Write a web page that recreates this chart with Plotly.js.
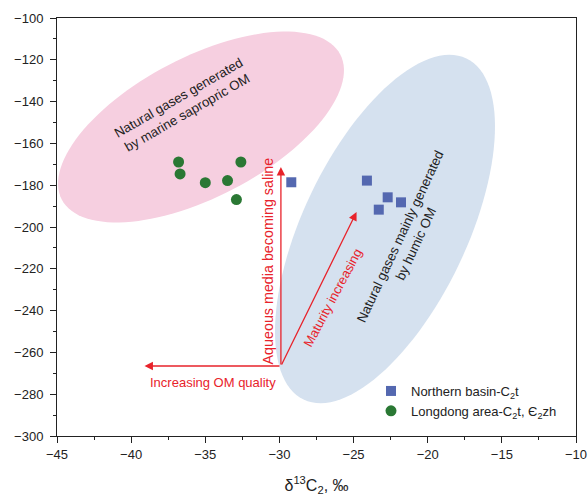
<!DOCTYPE html>
<html>
<head>
<meta charset="utf-8">
<script src="https://cdn.plot.ly/plotly-3.0.1.min.js"></script>
<style>html,body{margin:0;padding:0;background:#fff;}#chart{width:588px;height:496px;}</style>
</head>
<body>
<div id="chart"></div>
<script>
// ---- data ----
const northernX = [-29.2, -24.1, -22.7, -21.8, -23.3];
const northernY = [-178.6, -177.8, -185.8, -188.2, -191.7];
const longdongX = [-36.8, -36.7, -35.0, -33.5, -32.6, -32.9];
const longdongY = [-168.9, -174.6, -178.8, -177.8, -168.9, -186.9];
const xTickVals = [-45, -40, -35, -30, -25, -20, -15, -10];
const yTickVals = [-300, -280, -260, -240, -220, -200, -180, -160, -140, -120, -100];

// ---- layout geometry ----
const W = 588, H = 496;
const M = {l: 57, r: 12, t: 18, b: 60};
const XR = [-45, -10], YR = [-300, -100];
const PW = W - M.l - M.r, PH = H - M.t - M.b;
function px2x(p){ return XR[0] + (p - M.l) * (XR[1]-XR[0]) / PW; }
function py2y(p){ return YR[1] - (p - M.t) * (YR[1]-YR[0]) / PH; }

function ellipsePath(cx, cy, a, b, deg){
  const phi = deg * Math.PI / 180;
  let d = '';
  for (let i = 0; i <= 120; i++){
    const t = 2 * Math.PI * i / 120;
    const px = cx + a*Math.cos(t)*Math.cos(phi) - b*Math.sin(t)*Math.sin(phi);
    const py = cy - (a*Math.cos(t)*Math.sin(phi) + b*Math.sin(t)*Math.cos(phi));
    d += (i === 0 ? 'M' : 'L') + px2x(px).toFixed(4) + ',' + py2y(py).toFixed(4);
  }
  return d + 'Z';
}

const red = '#e8232b';
const origin = {x: -29.9, y: -266.5};

const traces = [
  {
    x: northernX, y: northernY, type: 'scatter', mode: 'markers',
    name: 'Northern basin-C<sub>2</sub>t',
    marker: {symbol: 'square', size: 10, color: '#5468b0'}
  },
  {
    x: longdongX, y: longdongY, type: 'scatter', mode: 'markers',
    name: 'Longdong area-C<sub>2</sub>t, Є<sub>2</sub>zh',
    marker: {symbol: 'circle', size: 11, color: '#2a7834'}
  }
];

function arrow(tx, ty){
  return {x: tx, y: ty, ax: origin.x, ay: origin.y, xref: 'x', yref: 'y', axref: 'x', ayref: 'y',
    text: '', showarrow: true, arrowhead: 2, arrowsize: 1.3, arrowwidth: 1.3, arrowcolor: red};
}

const annotations = [
  arrow(-39.1, -266.5),
  arrow(-29.9, -171.3),
  arrow(-24.8, -192.8),
  {x: -34.5, y: -274.6, xref: 'x', yref: 'y', text: 'Increasing OM quality', showarrow: false,
    font: {size: 13, color: red}},
  {x: -30.8, y: -216.2, xref: 'x', yref: 'y', text: 'Aqueous media becoming saline', showarrow: false,
    textangle: -90, font: {size: 14.3, color: red}},
  {x: -26.4, y: -233.7, xref: 'x', yref: 'y', text: 'Maturity increasing', showarrow: false,
    textangle: -62, font: {size: 13, color: red}},
  {x: px2x(183), y: py2y(105), xref: 'x', yref: 'y', text: 'Natural gases generated<br>by marine sapropric OM',
    showarrow: false, textangle: -30, font: {size: 13.3, color: '#222'}},
  {x: px2x(408), y: py2y(240), xref: 'x', yref: 'y', text: 'Natural gases mainly generated<br>by humic OM',
    showarrow: false, textangle: -65, font: {size: 13.3, color: '#222'}}
];

const shapes = [
  {type: 'path', xref: 'x', yref: 'y', layer: 'below', path: ellipsePath(201, 127, 157, 70, 27.5),
    fillcolor: '#f6cfe0', line: {width: 0}},
  {type: 'path', xref: 'x', yref: 'y', layer: 'below', path: ellipsePath(385, 229, 189, 82, 64.5),
    fillcolor: '#d5e1ef', line: {width: 0}}
];

const axisCommon = {
  showgrid: false, zeroline: false, showline: true, linecolor: '#222', linewidth: 1, mirror: true,
  ticks: 'outside', ticklen: 6, tickcolor: '#222', tickwidth: 1,
  tickfont: {size: 13, color: '#222'}
};

const layout = {
  width: W, height: H,
  margin: M,
  paper_bgcolor: '#fff', plot_bgcolor: '#fff',
  font: {family: 'Liberation Sans, Arial, sans-serif', color: '#222'},
  showlegend: true,
  legend: {x: (371 - M.l) / PW, y: 1 - (376 - M.t) / PH, xanchor: 'left', yanchor: 'top',
    bgcolor: 'rgba(0,0,0,0)', font: {size: 13, color: '#222'}, tracegroupgap: 0},
  xaxis: Object.assign({}, axisCommon, {
    range: XR, tickvals: xTickVals, ticktext: xTickVals.map(v => v < 0 ? '\u2212' + Math.abs(v) : String(v)),
    minor: {dtick: 2.5, ticks: 'outside', ticklen: 3, tickcolor: '#222'},
    title: {text: 'δ<sup>13</sup>C<sub>2</sub>, ‰', font: {size: 16, color: '#222'}, standoff: 20}
  }),
  yaxis: Object.assign({}, axisCommon, {
    range: YR, tickvals: yTickVals, ticktext: yTickVals.map(v => v < 0 ? '\u2212' + Math.abs(v) : String(v)),
    ticklabelstandoff: 4,
    minor: {dtick: 10, ticks: 'outside', ticklen: 3, tickcolor: '#222'}
  }),
  shapes: shapes,
  annotations: annotations
};

Plotly.newPlot('chart', traces, layout, {staticPlot: true, displayModeBar: false});
</script>
</body>
</html>
